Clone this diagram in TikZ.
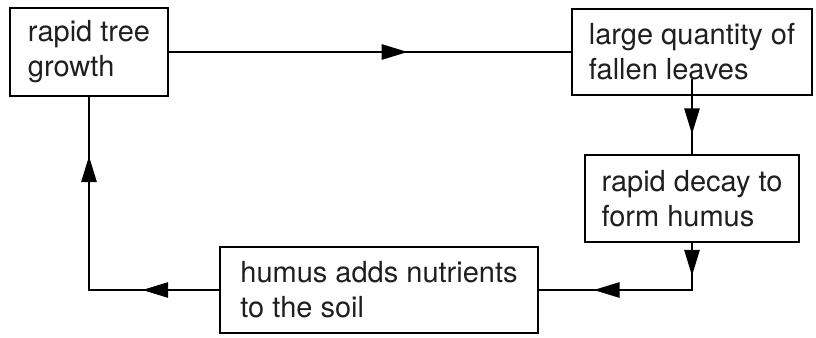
\documentclass[tikz,border=0pt]{standalone}
\usepackage{fontspec}
\setmainfont{TeX Gyre Heros}
\usetikzlibrary{arrows.meta, decorations.markings}

\begin{document}
\begin{tikzpicture}[%
  x=0.5pt, y=-0.5pt,
  every node/.style={align=left},
  >={Triangle[length=13pt, width=7.5pt]},
  box/.style={draw, line width=1.4pt, inner sep=0pt, font=\fontsize{14.5}{17.5}\selectfont, text=black!88},
  arr/.style={line width=1.4pt},
  tipat/.style={postaction={decorate, decoration={markings, mark=at position #1 with {\arrow{>}}}}}
]
\useasboundingbox (0,0) rectangle (816,338);

% Boxes
\node[box, minimum width=79pt, minimum height=44pt] (tree) at (89,52) {rapid tree\\growth};
\node[box, minimum width=120pt, minimum height=43pt] (leaves) at (692,52) {large quantity of\\fallen leaves};
\node[box, minimum width=107pt, minimum height=43.5pt] (decay) at (692,198.5) {rapid decay to\\form humus};
\node[box, minimum width=159pt, minimum height=43pt] (humus) at (379,290) {humus adds nutrients\\to the soil};

% Cycle
\draw[arr, tipat=0.594] (tree.east) -- (leaves.west);
\draw[arr, tipat=0.74] ([yshift=8.5pt]leaves.south) -- (decay.north);
\draw[arr, tipat=0.163, tipat=0.728] (decay.south) |- (humus.east);
\draw[arr, tipat=0.237, tipat=0.818] (humus.west) -| (tree.south);
\end{tikzpicture}
\end{document}
